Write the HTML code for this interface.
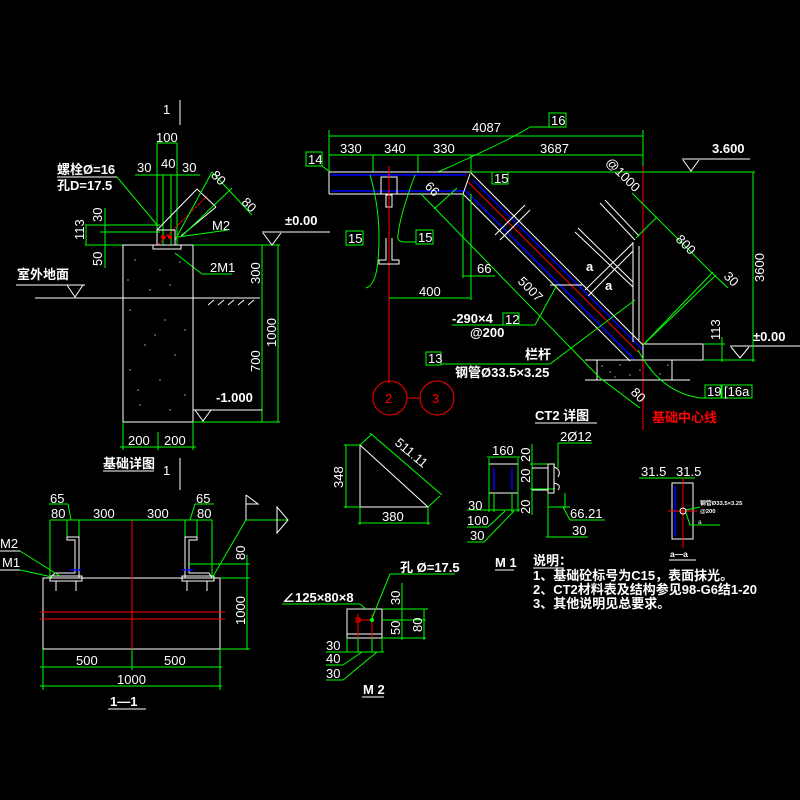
<!DOCTYPE html>
<html><head><meta charset="utf-8"><style>
html,body{margin:0;padding:0;background:#000;width:800px;height:800px;overflow:hidden}
svg{display:block}
text{font-family:"Liberation Sans","Noto Sans CJK SC",sans-serif;fill:#fff;font-size:13px}
.g{stroke:#00ff00;stroke-width:1;fill:none}
.w{stroke:#fff;stroke-width:1;fill:none}
.r{stroke:#ff0000;stroke-width:1;fill:none}
.b{stroke:#0000ff;stroke-width:1.5;fill:none}
.bx{stroke:#00ff00;fill:none}
.bold{font-weight:bold}
</style></head><body>
<svg width="800" height="800" viewBox="0 0 800 800" xmlns="http://www.w3.org/2000/svg">
<rect width="800" height="800" fill="#000"/>

<!-- ============ Foundation detail (top-left) ============ -->
<line class="w" x1="180" y1="100" x2="180" y2="125"/>
<text x="163" y="114">1</text>
<line class="w" x1="180" y1="458" x2="180" y2="480"/>
<text x="163" y="475">1</text>

<line class="g" x1="157" y1="143" x2="177" y2="143"/>
<text x="156" y="142">100</text>
<line class="g" x1="157" y1="143" x2="157" y2="245"/>
<line class="g" x1="177" y1="143" x2="177" y2="245"/>
<line class="g" x1="163" y1="175" x2="163" y2="245"/>
<line class="g" x1="171" y1="175" x2="171" y2="245"/>
<line class="g" x1="135" y1="175" x2="200" y2="175"/>
<text x="161" y="168">40</text>
<text x="137" y="172">30</text>
<text x="182" y="172">30</text>

<text x="57" y="174" class="bold" font-size="12">螺栓Ø=16</text>
<text x="57" y="190" class="bold" font-size="12">孔D=17.5</text>
<line class="w" x1="57" y1="177" x2="117" y2="177"/>
<polyline class="g" points="117,177 158,226"/>

<!-- brace -->
<line class="w" x1="157" y1="230" x2="197" y2="189"/>
<line class="w" x1="181" y1="236" x2="216" y2="207"/>
<line class="w" x1="197" y1="189" x2="216" y2="207"/>
<line class="r" stroke-dasharray="3,1" x1="158" y1="245" x2="207" y2="196"/>
<line class="g" x1="175" y1="240" x2="212" y2="172"/>
<line class="g" x1="212" y1="172" x2="252" y2="215"/>
<line class="g" x1="182" y1="236" x2="232" y2="188"/>
<text x="211" y="182" transform="rotate(45 218 178)">80</text>
<text x="242" y="210" transform="rotate(45 250 205)">80</text>
<rect class="w" x="157" y="230" width="18" height="15"/>
<rect class="w" x="153" y="245" width="28" height="4"/>
<circle cx="163" cy="237" r="2" fill="#ff0000"/>
<circle cx="170" cy="237" r="2" fill="#ff0000"/>

<line class="g" x1="85" y1="225" x2="160" y2="225"/>
<line class="g" x1="100" y1="232" x2="160" y2="232"/>
<line class="g" x1="85" y1="245" x2="123" y2="245"/>
<line class="g" x1="86" y1="225" x2="86" y2="245"/>
<line class="g" x1="105" y1="208" x2="105" y2="268"/>
<text x="0" y="0" transform="translate(84,240) rotate(-90)">113</text>
<text x="0" y="0" transform="translate(102,222) rotate(-90)">30</text>
<text x="0" y="0" transform="translate(102,266) rotate(-90)">50</text>

<text x="212" y="230">M2</text>
<line class="g" x1="178" y1="237" x2="228" y2="230"/>
<text x="210" y="272">2M1</text>
<line class="g" x1="175" y1="253" x2="202" y2="274"/>
<line class="g" x1="202" y1="274" x2="232" y2="274"/>

<!-- foundation block -->
<rect class="w" x="123" y="245" width="70" height="177"/>
<g fill="#fff">
<circle cx="135" cy="260" r=".6"/><circle cx="160" cy="270" r=".6"/><circle cx="180" cy="262" r=".6"/><circle cx="150" cy="290" r=".6"/><circle cx="170" cy="285" r=".6"/><circle cx="130" cy="310" r=".6"/><circle cx="165" cy="320" r=".6"/><circle cx="185" cy="330" r=".6"/><circle cx="145" cy="345" r=".6"/><circle cx="175" cy="355" r=".6"/><circle cx="130" cy="370" r=".6"/><circle cx="160" cy="380" r=".6"/><circle cx="185" cy="395" r=".6"/><circle cx="140" cy="405" r=".6"/><circle cx="170" cy="410" r=".6"/><circle cx="128" cy="280" r=".6"/><circle cx="155" cy="335" r=".6"/><circle cx="138" cy="390" r=".6"/>
</g>
<line class="w" x1="35" y1="298" x2="260" y2="298"/>
<g class="w"><line x1="208" y1="305" x2="214" y2="300"/><line x1="218" y1="305" x2="224" y2="300"/><line x1="228" y1="305" x2="234" y2="300"/><line x1="238" y1="305" x2="244" y2="300"/><line x1="248" y1="305" x2="254" y2="300"/></g>
<text x="17" y="279" font-size="15" class="bold">室外地面</text>
<line class="w" x1="16" y1="285" x2="85" y2="285"/>
<polyline class="w" points="67,285 75,297 83,285"/>

<line class="g" x1="193" y1="245" x2="280" y2="245"/>
<line class="g" x1="262" y1="245" x2="262" y2="422"/>
<line class="g" x1="278" y1="245" x2="278" y2="422"/>
<line class="g" x1="193" y1="422" x2="280" y2="422"/>
<text x="0" y="0" transform="translate(260,284) rotate(-90)">300</text>
<text x="0" y="0" transform="translate(260,372) rotate(-90)">700</text>
<text x="0" y="0" transform="translate(276,347) rotate(-90)">1000</text>
<text x="216" y="402" font-size="15" class="bold">-1.000</text>
<line class="w" x1="193" y1="410" x2="262" y2="410"/>
<polyline class="w" points="195,410 203,421 211,410"/>
<text x="285" y="225" font-size="15" class="bold">±0.00</text>
<line class="w" x1="262" y1="232" x2="330" y2="232"/>
<polyline class="w" points="263,233 272,245 281,233"/>

<line class="g" x1="123" y1="422" x2="123" y2="450"/>
<line class="g" x1="158" y1="432" x2="158" y2="450"/>
<line class="g" x1="193" y1="422" x2="193" y2="450"/>
<line class="g" x1="120" y1="447" x2="196" y2="447"/>
<text x="128" y="445">200</text>
<text x="164" y="445">200</text>
<text x="103" y="468" font-size="12" class="bold">基础详图</text>
<line class="w" x1="103" y1="471" x2="154" y2="471"/>

<!-- ============ CT2 detail (top-right) ============ -->
<line class="g" x1="329" y1="136" x2="643" y2="136"/>
<text x="472" y="132" font-size="14">4087</text>
<line class="g" x1="329" y1="155" x2="643" y2="155"/>
<line class="g" x1="329" y1="130" x2="329" y2="172"/>
<line class="g" x1="373" y1="155" x2="373" y2="172"/>
<line class="g" x1="418" y1="155" x2="418" y2="172"/>
<line class="g" x1="471" y1="155" x2="471" y2="172"/>
<line class="g" x1="643" y1="130" x2="643" y2="170"/>
<text x="340" y="153" font-size="14">330</text>
<text x="384" y="153" font-size="14">340</text>
<text x="433" y="153" font-size="14">330</text>
<text x="540" y="153" font-size="14">3687</text>
<path class="g" d="M438,172 Q510,140 530,127 L549,127"/>
<rect class="bx" x="549" y="113" width="17" height="14"/><text x="551" y="125">16</text>
<rect class="bx" x="306" y="152" width="16" height="14"/><text x="308" y="164">14</text>
<line class="g" x1="322" y1="166" x2="330" y2="172"/>

<!-- beam -->
<line class="w" x1="329" y1="172" x2="471" y2="172"/>
<line class="w" x1="329" y1="194" x2="463" y2="194"/>
<line class="w" x1="329" y1="172" x2="329" y2="194"/>
<line class="b" x1="331" y1="175" x2="466" y2="175"/>
<line class="b" x1="331" y1="191" x2="464" y2="191"/>
<rect class="w" x="381" y="177" width="16" height="17"/>
<rect class="w" x="386" y="195" width="6" height="12"/>
<line class="r" x1="389" y1="166" x2="389" y2="383"/>
<path class="w" d="M386,238 L386,260 L379,260 L379,264 L399,264 L399,260 L392,260 L392,238"/>
<path class="g" d="M370,175 Q382,215 378,260 Q376,285 366,288"/>
<rect class="bx" x="346" y="231" width="17" height="14"/><text x="348" y="243">15</text>
<path class="g" d="M415,175 Q400,215 398,235 Q396,242 406,242 L416,242"/>
<rect class="bx" x="416" y="230" width="17" height="14"/><text x="418" y="242">15</text>
<circle class="r" cx="390" cy="398" r="17"/><text x="385" y="403" style="fill:#f00">2</text>
<circle class="r" cx="437" cy="398" r="17"/><text x="432" y="403" style="fill:#f00">3</text>
<line class="r" x1="407" y1="398" x2="420" y2="398"/>

<!-- stair -->
<line class="w" x1="470" y1="172" x2="643" y2="345"/>
<line class="w" x1="463" y1="194" x2="630" y2="361"/>
<line class="w" x1="463" y1="194" x2="470" y2="174"/>
<line class="b" x1="473" y1="180" x2="642" y2="349"/>
<line class="b" x1="465" y1="190" x2="634" y2="359"/>
<line class="r" x1="468" y1="182" x2="638" y2="352"/>
<line class="w" x1="495" y1="235" x2="525" y2="205" stroke-width="1.5"/>
<line class="w" x1="500" y1="240" x2="530" y2="210"/>
<line class="w" x1="550" y1="285" x2="582" y2="285" stroke-width="2"/>

<!-- railing -->
<g class="w">
<line x1="633" y1="242" x2="633" y2="342"/>
<line x1="639" y1="246" x2="639" y2="340"/>
<line x1="600" y1="203" x2="635" y2="240"/>
<line x1="605" y1="200" x2="639" y2="236"/>
<line x1="575" y1="232" x2="633" y2="287"/>
<line x1="578" y1="228" x2="633" y2="282"/>
<line x1="585" y1="290" x2="633" y2="243"/>
<line x1="588" y1="296" x2="633" y2="251"/>
</g>
<text x="586" y="271" font-size="10" class="bold">a</text>
<text x="605" y="290" font-size="10" class="bold">a</text>

<line class="r" x1="643" y1="166" x2="643" y2="430"/>
<text x="652" y="422" font-size="15" class="bold" style="fill:#f00">基础中心线</text>

<!-- ground -->
<rect class="w" x="643" y="344" width="60" height="16"/>
<line class="w" x1="585" y1="360" x2="703" y2="360"/>
<rect class="w" x="597" y="360" width="75" height="20"/>
<line class="w" x1="585" y1="380" x2="690" y2="380"/>
<g fill="#fff"><circle cx="602" cy="366" r=".6"/><circle cx="610" cy="372" r=".6"/><circle cx="620" cy="365" r=".6"/><circle cx="630" cy="375" r=".6"/><circle cx="650" cy="368" r=".6"/><circle cx="660" cy="374" r=".6"/><circle cx="668" cy="365" r=".6"/><circle cx="640" cy="370" r=".6"/><circle cx="615" cy="377" r=".6"/></g>
<line class="g" x1="703" y1="344" x2="725" y2="344"/>
<line class="g" x1="703" y1="360" x2="755" y2="360"/>
<line class="g" x1="722" y1="337" x2="722" y2="362"/>
<text x="0" y="0" transform="translate(720,340) rotate(-90)">113</text>
<text x="753" y="341" font-size="15" class="bold">±0.00</text>
<line class="w" x1="730" y1="346" x2="800" y2="346"/>
<polyline class="w" points="731,347 740,358 749,347"/>
<text x="712" y="153" font-size="15" class="bold">3.600</text>
<line class="w" x1="682" y1="159" x2="750" y2="159"/>
<polyline class="w" points="683,160 691,171 699,160"/>
<line class="g" x1="470" y1="172" x2="755" y2="172"/>
<line class="g" x1="753" y1="172" x2="753" y2="362"/>
<text x="0" y="0" transform="translate(764,282) rotate(-90)" font-size="14">3600</text>
<rect class="bx" x="492" y="172" width="16" height="12"/><text x="494" y="183">15</text>

<!-- diagonal dims -->
<line class="g" x1="632" y1="193" x2="712" y2="273"/>
<line class="g" x1="712" y1="273" x2="728" y2="288"/>
<line class="g" x1="636" y1="238" x2="657" y2="217"/>
<line class="g" x1="643" y1="345" x2="713" y2="272"/>
<line class="g" x1="643" y1="345" x2="716" y2="275"/>
<text x="0" y="0" transform="translate(605,163) rotate(45)" font-size="13">@1000</text>
<text x="0" y="0" transform="translate(675,240) rotate(45)" font-size="13">800</text>
<text x="0" y="0" transform="translate(723,277) rotate(45)" font-size="13">30</text>
<line class="g" x1="420" y1="193" x2="600" y2="378"/>
<line class="g" x1="600" y1="378" x2="640" y2="408"/>
<line class="g" x1="434" y1="209" x2="457" y2="188"/>
<text x="0" y="0" transform="translate(424,187) rotate(45)" font-size="13">66</text>
<text x="0" y="0" transform="translate(517,282) rotate(45)" font-size="13">5007</text>
<text x="0" y="0" transform="translate(630,393) rotate(45)" font-size="13">80</text>
<line class="g" x1="471" y1="194" x2="471" y2="300"/>
<line class="g" x1="463" y1="194" x2="463" y2="278"/>
<line class="g" x1="463" y1="276" x2="495" y2="276"/>
<text x="477" y="273">66</text>
<line class="g" x1="389" y1="298" x2="471" y2="298"/>
<text x="419" y="296">400</text>
<path class="g" d="M638,350 Q660,392 700,398 L705,398"/>
<rect class="bx" x="705" y="385" width="16" height="13"/><text x="707" y="396">19</text>
<rect class="bx" x="722" y="385" width="30" height="13"/><text x="724" y="396">[16a</text>

<text x="452" y="323" font-size="13" class="bold">-290×4</text>
<line class="g" x1="452" y1="325" x2="535" y2="325"/>
<line class="g" x1="535" y1="325" x2="557" y2="285"/>
<rect class="bx" x="503" y="313" width="16" height="12"/><text x="505" y="324">12</text>
<text x="470" y="337" font-size="11" class="bold">@200</text>
<rect class="bx" x="426" y="352" width="15" height="13"/><text x="428" y="363">13</text>
<line class="g" x1="441" y1="364" x2="550" y2="364"/>
<line class="g" x1="550" y1="364" x2="635" y2="300"/>
<text x="525" y="359" font-size="12" class="bold">栏杆</text>
<text x="455" y="377" font-size="12" class="bold">钢管Ø33.5×3.25</text>
<text x="535" y="420" font-size="14" class="bold">CT2 详图</text>
<line class="w" x1="535" y1="423" x2="597" y2="423"/>

<!-- ============ Section 1-1 ============ -->
<line class="w" x1="180" y1="480" x2="180" y2="490"/>
<rect class="w" x="43" y="578" width="177" height="71"/>
<line class="r" x1="40" y1="612" x2="225" y2="612" stroke-width="1.5"/>
<line class="r" x1="40" y1="619" x2="225" y2="619"/>
<line class="r" x1="132" y1="520" x2="132" y2="649"/>
<line class="g" x1="50" y1="520" x2="212" y2="520"/>
<line class="g" x1="50" y1="520" x2="50" y2="578"/>
<line class="g" x1="67" y1="520" x2="67" y2="540"/>
<line class="g" x1="79" y1="520" x2="79" y2="540"/>
<line class="g" x1="185" y1="520" x2="185" y2="540"/>
<line class="g" x1="197" y1="520" x2="197" y2="540"/>
<line class="g" x1="212" y1="520" x2="212" y2="578"/>
<text x="51" y="518">80</text><text x="93" y="518">300</text><text x="147" y="518">300</text><text x="197" y="518">80</text>
<text x="50" y="503">65</text><text x="196" y="503">65</text>
<line class="g" x1="49" y1="504" x2="68" y2="504"/><line class="g" x1="68" y1="504" x2="71" y2="520"/>
<line class="g" x1="195" y1="504" x2="214" y2="504"/><line class="g" x1="195" y1="504" x2="190" y2="520"/>
<path class="w" d="M67,537 L79,537 L79,578 M67,537 L67,540 L75,540 L75,573 L55,573 L50,578"/>
<path class="w" d="M197,537 L185,537 L185,578 M197,537 L197,540 L189,540 L189,573 L209,573 L212,578"/>
<rect class="w" x="50" y="576" width="32" height="5"/>
<rect class="w" x="182" y="576" width="32" height="5"/>
<line class="w" x1="56" y1="581" x2="56" y2="591"/><line class="w" x1="76" y1="581" x2="76" y2="591"/>
<line class="w" x1="187" y1="581" x2="187" y2="591"/><line class="w" x1="207" y1="581" x2="207" y2="591"/>
<line class="b" x1="70" y1="570" x2="81" y2="570"/>
<line class="b" x1="182" y1="570" x2="193" y2="570"/>
<text x="0" y="548">M2</text><line class="w" x1="0" y1="551" x2="20" y2="551"/>
<line class="g" x1="20" y1="551" x2="60" y2="576"/>
<text x="2" y="567">M1</text><line class="w" x1="0" y1="570" x2="20" y2="570"/>
<line class="g" x1="20" y1="570" x2="52" y2="577"/>
<line class="g" x1="188" y1="564" x2="250" y2="564"/>
<line class="g" x1="220" y1="578" x2="250" y2="578"/>
<line class="g" x1="220" y1="649" x2="250" y2="649"/>
<line class="g" x1="247" y1="555" x2="247" y2="650"/>
<text x="0" y="0" transform="translate(245,560) rotate(-90)">80</text>
<text x="0" y="0" transform="translate(245,625) rotate(-90)">1000</text>
<line class="g" x1="212" y1="578" x2="246" y2="520"/>
<line class="w" x1="246" y1="495" x2="246" y2="520"/>
<polyline class="w" points="246,495 258,504 246,504"/>
<line class="g" x1="246" y1="520" x2="288" y2="520"/>
<polygon class="w" points="277,507 288,520 277,533"/>
<line class="g" x1="43" y1="649" x2="43" y2="690"/>
<line class="g" x1="132" y1="649" x2="132" y2="670"/>
<line class="g" x1="220" y1="649" x2="220" y2="690"/>
<line class="g" x1="40" y1="667" x2="222" y2="667"/>
<text x="76" y="665">500</text><text x="164" y="665">500</text>
<line class="g" x1="40" y1="686" x2="222" y2="686"/>
<text x="117" y="684">1000</text>
<text x="110" y="706" font-size="14" class="bold">1—1</text>
<line class="w" x1="108" y1="709" x2="146" y2="709"/>

<!-- ============ Triangle plate ============ -->
<polygon class="w" points="360,445 360,507 428,507"/>
<line class="g" x1="344" y1="445" x2="360" y2="445"/>
<line class="g" x1="344" y1="507" x2="360" y2="507"/>
<line class="g" x1="346" y1="445" x2="346" y2="508"/>
<text x="0" y="0" transform="translate(343,488) rotate(-90)">348</text>
<line class="g" x1="360" y1="445" x2="372" y2="434"/>
<line class="g" x1="428" y1="507" x2="440" y2="496"/>
<line class="g" x1="370" y1="433" x2="442" y2="495"/>
<text x="0" y="0" transform="translate(394,444) rotate(40)">511.11</text>
<line class="g" x1="360" y1="507" x2="360" y2="525"/>
<line class="g" x1="428" y1="507" x2="428" y2="525"/>
<line class="g" x1="358" y1="523" x2="430" y2="523"/>
<text x="382" y="521">380</text>

<!-- ============ M1 ============ -->
<rect class="w" x="489" y="464" width="29" height="29"/>
<line class="b" x1="494" y1="468" x2="494" y2="490"/>
<line class="b" x1="512" y1="468" x2="512" y2="490"/>
<line class="g" x1="489" y1="458" x2="489" y2="512"/>
<line class="g" x1="518" y1="458" x2="518" y2="512"/>
<line class="g" x1="494" y1="493" x2="494" y2="512"/>
<line class="g" x1="512" y1="493" x2="512" y2="512"/>
<line class="g" x1="467" y1="510" x2="520" y2="510"/>
<line class="g" x1="487" y1="457" x2="520" y2="457"/>
<text x="492" y="455">160</text>
<text x="468" y="510">30</text>
<line class="g" x1="467" y1="527" x2="488" y2="527"/><line class="g" x1="488" y1="527" x2="505" y2="511"/>
<text x="467" y="525">100</text>
<line class="g" x1="467" y1="542" x2="484" y2="542"/><line class="g" x1="484" y1="542" x2="514" y2="511"/>
<text x="470" y="540">30</text>
<line class="g" x1="532" y1="444" x2="532" y2="515"/>
<text x="0" y="0" transform="translate(530,462) rotate(-90)" font-size="12">20</text>
<text x="0" y="0" transform="translate(530,483) rotate(-90)" font-size="12">20</text>
<text x="0" y="0" transform="translate(530,514) rotate(-90)" font-size="12">20</text>
<line class="g" x1="530" y1="464" x2="555" y2="464"/>
<line class="g" x1="530" y1="489" x2="555" y2="489"/>
<rect class="w" x="548" y="464" width="6" height="29"/>
<line class="w" x1="532" y1="468" x2="548" y2="468"/>
<line class="w" x1="532" y1="490" x2="548" y2="490"/>
<path class="w" d="M554,467 Q562,470 558,477"/>
<path class="w" d="M554,483 Q562,485 558,490"/>
<line class="g" x1="558" y1="443" x2="558" y2="468"/>
<line class="g" x1="558" y1="443" x2="592" y2="443"/>
<text x="560" y="441">2Ø12</text>
<line class="g" x1="548" y1="493" x2="548" y2="537"/>
<line class="g" x1="565" y1="493" x2="565" y2="508"/>
<line class="g" x1="548" y1="507" x2="570" y2="507"/>
<line class="g" x1="563" y1="507" x2="570" y2="520"/>
<line class="g" x1="570" y1="520" x2="605" y2="520"/>
<text x="570" y="518">66.21</text>
<line class="g" x1="546" y1="537" x2="588" y2="537"/>
<text x="572" y="535">30</text>
<text x="495" y="567" font-size="12" class="bold">M 1</text>
<line class="w" x1="495" y1="570" x2="514" y2="570"/>

<!-- notes -->
<text x="533" y="565" font-size="11" class="bold">说明：</text>
<line class="w" x1="533" y1="568" x2="564" y2="568"/>
<text x="533" y="580" font-size="10" class="bold">1、基础砼标号为C15，表面抹光。</text>
<text x="533" y="594" font-size="10" class="bold">2、CT2材料表及结构参见98-G6结1-20</text>
<text x="533" y="608" font-size="10" class="bold">3、其他说明见总要求。</text>

<!-- a-a section -->
<line class="g" x1="639" y1="478" x2="695" y2="478"/>
<text x="641" y="476">31.5</text><text x="676" y="476">31.5</text>
<rect class="w" x="672" y="483" width="21" height="56"/>
<line class="b" x1="675" y1="486" x2="675" y2="536"/>
<line class="r" x1="683" y1="478" x2="683" y2="548"/>
<line class="r" x1="668" y1="511" x2="697" y2="511"/>
<circle class="w" cx="683" cy="511" r="3"/>
<line class="g" x1="686" y1="510" x2="700" y2="507"/>
<g transform="translate(700,505) scale(0.45)"><text x="0" y="0" font-size="13" class="bold">钢管Ø33.5×3.25</text></g>
<g transform="translate(700,513) scale(0.45)"><text x="0" y="0" font-size="13" class="bold">@200</text></g>
<line class="g" x1="686" y1="513" x2="690" y2="525"/>
<line class="g" x1="690" y1="525" x2="720" y2="525"/>
<g transform="translate(698,524) scale(0.5)"><text x="0" y="0" font-size="12">a</text></g>
<g transform="translate(670,557) scale(0.65)"><text x="0" y="0" font-size="12" class="bold">a—a</text></g>
<line class="w" x1="669" y1="560" x2="696" y2="560"/>

<!-- ============ M2 ============ -->
<rect class="w" x="347" y="609" width="35" height="29"/>
<line class="w" x1="347" y1="634" x2="382" y2="634"/>
<line class="r" x1="358" y1="614" x2="358" y2="642"/>
<line class="r" x1="372" y1="614" x2="372" y2="642"/>
<line class="r" x1="358" y1="620" x2="372" y2="620"/>
<rect class="r" x="356" y="618" width="4" height="4"/>
<circle cx="372" cy="620" r="2" fill="#00ff00"/>
<line class="g" x1="382" y1="620" x2="426" y2="620"/>
<line class="g" x1="382" y1="638" x2="426" y2="638"/>
<line class="g" x1="402" y1="583" x2="402" y2="640"/>
<line class="g" x1="424" y1="609" x2="424" y2="640"/>
<line class="g" x1="382" y1="609" x2="428" y2="609"/>
<text x="0" y="0" transform="translate(400,605) rotate(-90)">30</text>
<text x="0" y="0" transform="translate(400,635) rotate(-90)">50</text>
<text x="0" y="0" transform="translate(422,632) rotate(-90)">80</text>
<text x="400" y="572" font-size="12" class="bold">孔 Ø=17.5</text>
<line class="g" x1="390" y1="574" x2="455" y2="574"/>
<line class="g" x1="390" y1="574" x2="372" y2="618"/>
<text x="282" y="602" font-size="12" class="bold">∠125×80×8</text>
<line class="g" x1="282" y1="604" x2="360" y2="604"/>
<line class="g" x1="360" y1="604" x2="366" y2="609"/>
<line class="g" x1="347" y1="638" x2="347" y2="652"/>
<line class="g" x1="358" y1="638" x2="358" y2="652"/>
<line class="g" x1="372" y1="638" x2="372" y2="652"/>
<line class="g" x1="382" y1="638" x2="382" y2="652"/>
<line class="g" x1="326" y1="652" x2="384" y2="652"/>
<text x="326" y="650">30</text>
<line class="g" x1="326" y1="665" x2="343" y2="665"/><line class="g" x1="343" y1="665" x2="362" y2="652"/>
<text x="326" y="663">40</text>
<line class="g" x1="326" y1="680" x2="343" y2="680"/><line class="g" x1="343" y1="680" x2="377" y2="652"/>
<text x="326" y="678">30</text>
<text x="363" y="694" font-size="12" class="bold">M 2</text>
<line class="w" x1="362" y1="697" x2="384" y2="697"/>
</svg>
</body></html>
